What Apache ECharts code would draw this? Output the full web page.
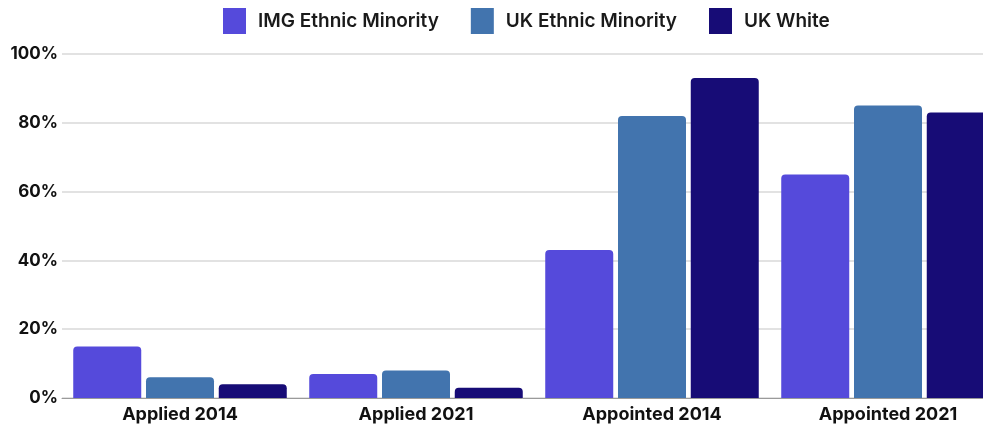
<!DOCTYPE html>
<html>
<head>
<meta charset="utf-8">
<script src="https://cdn.jsdelivr.net/npm/echarts@6/dist/echarts.min.js"></script>
<style>
html, body { margin: 0; padding: 0; background: #fff; }
#chart { width: 983px; height: 429px; }
</style>
</head>
<body>
<div id="chart"></div>
<script>
var categories = ['Applied 2014', 'Applied 2021', 'Appointed 2014', 'Appointed 2021'];
var seriesNames = ['IMG Ethnic Minority', 'UK Ethnic Minority', 'UK White'];
var imgMinority = [15, 7, 43, 65];
var ukMinority = [6, 8, 82, 85];
var ukWhite = [4, 3, 93, 83];
var colors = ['#554ADB', '#4274AE', '#170C76'];

var myChart = echarts.init(document.getElementById('chart'));
var font = 'Inter, "Noto Sans", sans-serif';

function bar(name, data) {
	return {
		name: name,
		type: 'bar',
		data: data,
		barWidth: 68,
		barGap: '7%',
		itemStyle: { borderRadius: [4, 4, 0, 0] }
	};
}

var option = {
	animation: false,
	color: colors,
	legend: {
		data: seriesNames,
		top: 8,
		left: 223,
		padding: 0,
		itemWidth: 23,
		itemHeight: 26,
		itemGap: 32,
		icon: 'rect',
		textStyle: { fontFamily: font, fontSize: 19, fontWeight: 600, color: '#1a1a1a', padding: [0, 0, 0, 7] }
	},
	// the last group runs off the right edge, so the grid is wider than the canvas
	grid: { left: 62, width: 944, top: 54, bottom: 31, outerBoundsMode: 'none', containLabel: false },
	xAxis: {
		type: 'category',
		data: categories,
		axisTick: { show: false },
		axisLine: { lineStyle: { color: '#9a9a9a', width: 1 } },
		axisLabel: { fontFamily: font, fontSize: 18, fontWeight: 700, color: '#111', margin: 8 }
	},
	yAxis: {
		type: 'value',
		min: 0,
		max: 100,
		interval: 20,
		axisLabel: { formatter: '{value}%', fontFamily: font, fontSize: 17, fontWeight: 700, color: '#111', margin: 4 },
		splitLine: { lineStyle: { color: '#d9d9d9', width: 1.5 } }
	},
	series: [
		bar(seriesNames[0], imgMinority),
		bar(seriesNames[1], ukMinority),
		bar(seriesNames[2], ukWhite)
	]
};
myChart.setOption(option);
</script>
</body>
</html>
